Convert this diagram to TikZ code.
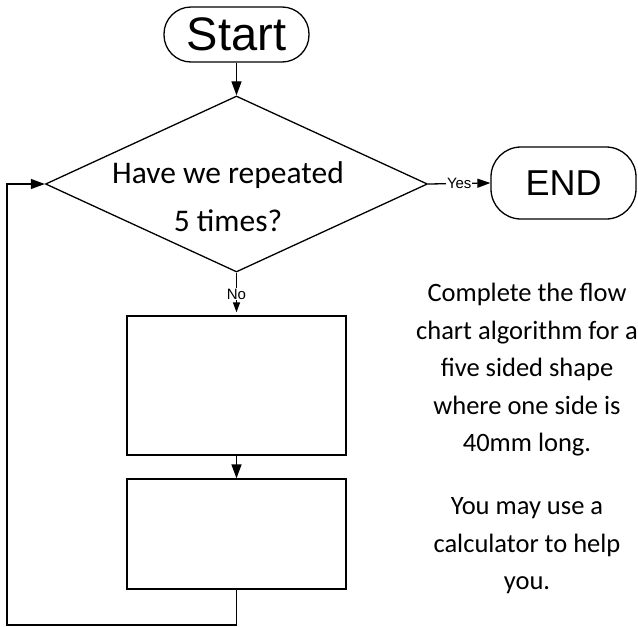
\documentclass[tikz,border=0pt]{standalone}
\usepackage{fontspec}
\setmainfont{Carlito}
\newfontfamily\arialfont{Liberation Sans}
\usetikzlibrary{arrows.meta,shapes.geometric}

\begin{document}
\begin{tikzpicture}
[
x = 1pt, y = -1pt,
line width = 1.3pt,
terminal/.style = {rectangle, draw, inner sep = 0pt, font = \arialfont},
decision/.style = {diamond, draw, inner sep = 0pt, minimum width = 382pt, minimum height = 176pt},
process/.style = {rectangle, draw, inner sep = 0pt, minimum width = 219pt},
flow/.style = {-{Triangle[length = 14pt, width = 10pt]}},
branch/.style = {font = \arialfont\fontsize{15}{15}\selectfont, fill = white, inner sep = 1pt},
note/.style = {align = center, font = \fontsize{26.5}{37.5}\selectfont}
]
    \useasboundingbox (0, 0) rectangle (638, 627);

    \node[terminal, minimum width = 145pt, minimum height = 55pt, rounded corners = 27pt, font = \arialfont\fontsize{47}{47}\selectfont] (start) at (236.5, 34.5) {Start};
    \node[decision] (check) at (236.5, 184) {};
    \node[align = center, font = \fontsize{31.5}{48}\selectfont] (question) at (228, 197) {Have we repeated\\5 times?};
    \node[terminal, minimum width = 145pt, minimum height = 72pt, rounded corners = 30pt, font = \arialfont\fontsize{36}{36}\selectfont] (end) at (563.5, 183) {END};
    \node[process, minimum height = 139pt] (step1) at (236.5, 385.5) {};
    \node[process, minimum height = 110pt] (step2) at (236.5, 534) {};
    \coordinate (loopa) at (236.5, 625);
    \coordinate (loopb) at (7, 625);
    \coordinate (loopc) at (7, 184);

    \node[note] (task) at (527, 370) {Complete the flow\\chart algorithm for a\\five sided shape\\where one side is\\40mm long.};
    \node[note] (hint) at (527, 546) {You may use a\\calculator to help\\you.};

    \draw[flow] (start) -- (check);
    \draw[-{Triangle[length = 13pt, width = 9pt]}] (check.east) -- node[branch] {Yes} (end.west);
    \draw[-{Triangle[length = 10pt, width = 7pt]}, shorten > = 3pt] (check.south) -- node[branch] {No} (step1.north);
    \draw[flow] (step1) -- (step2);
    \draw[flow] (step2.south) -- (loopa) -- (loopb) -- (loopc) -- (check.west);
\end{tikzpicture}
\end{document}
